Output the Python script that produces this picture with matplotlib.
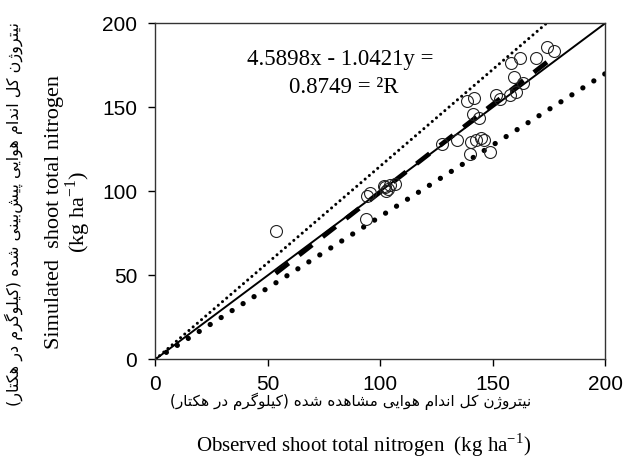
import numpy as np
import matplotlib
matplotlib.use("Agg")
import matplotlib.pyplot as plt

# ---------------- data ----------------
observed = [53.5, 94.2, 95.4, 93.9, 102.1, 102.8, 104.3, 106.5, 101.5, 103.5,
            127.3, 134.0, 138.4, 141.8, 141.3, 144.0, 139.9, 140.2, 142.8, 145.0,
            146.0, 148.8, 151.7, 153.5, 158.1, 159.4, 157.6, 160.3, 163.6, 162.4,
            169.2, 174.2, 177.2]
simulated = [76.5, 97.2, 99.2, 83.3, 102.7, 100.4, 103.7, 104.2, 103.0, 101.5,
             128.2, 130.5, 153.9, 155.4, 146.0, 143.4, 122.2, 129.5, 130.5, 131.5,
             130.5, 123.2, 157.3, 154.7, 176.6, 168.2, 157.3, 159.3, 164.3, 179.5,
             179.5, 186.1, 183.5]
slope, intercept = 1.0421, -4.5898
r2 = 0.8749
upper_factor, lower_factor = 1.15, 0.85
ticks = [0, 50, 100, 150, 200]

x_label_en = "Observed shoot total nitrogen  (kg ha$^{\\mathregular{-1}}$)"
y_label_en = "Simulated  shoot total nitrogen\n(kg ha$^{\\mathregular{-1}}$)"
x_label_fa = "نیتروژن کل اندام هوایی مشاهده شده (کیلوگرم در هکتار)"
y_label_fa = "نیتروژن کل اندام هوایی پیش\u200cبینی شده (کیلوگرم در هکتار)"

# ------------- simple Persian shaping (visual order) -------------
FORMS = {
    'ا': ('\uFE8D', '\uFE8E', None, None),
    'ب': ('\uFE8F', '\uFE90', '\uFE91', '\uFE92'),
    'پ': ('\uFB56', '\uFB57', '\uFB58', '\uFB59'),
    'ت': ('\uFE95', '\uFE96', '\uFE97', '\uFE98'),
    'د': ('\uFEA9', '\uFEAA', None, None),
    'ر': ('\uFEAD', '\uFEAE', None, None),
    'ز': ('\uFEAF', '\uFEB0', None, None),
    'ژ': ('\uFB8A', '\uFB8B', None, None),
    'ش': ('\uFEB5', '\uFEB6', '\uFEB7', '\uFEB8'),
    'ک': ('\uFB8E', '\uFB8F', '\uFB90', '\uFB91'),
    'گ': ('\uFB92', '\uFB93', '\uFB94', '\uFB95'),
    'ل': ('\uFEDD', '\uFEDE', '\uFEDF', '\uFEE0'),
    'م': ('\uFEE1', '\uFEE2', '\uFEE3', '\uFEE4'),
    'ن': ('\uFEE5', '\uFEE6', '\uFEE7', '\uFEE8'),
    'ه': ('\uFEE9', '\uFEEA', '\uFEEB', '\uFEEC'),
    'و': ('\uFEED', '\uFEEE', None, None),
    'ی': ('\uFBFC', '\uFBFD', '\uFBFE', '\uFBFF'),
}


def shape_fa(text):
    text = text.replace('\u064A', '\u06CC').replace('\u0643', '\u06A9')
    chars = list(text)
    out = []
    for i, c in enumerate(chars):
        if c not in FORMS:
            if c != '\u200c':
                out.append(c)
            continue
        prev = chars[i - 1] if i > 0 else None
        nxt = chars[i + 1] if i + 1 < len(chars) else None
        jp = prev in FORMS and FORMS[prev][2] is not None
        jn = FORMS[c][2] is not None and nxt in FORMS
        iso, fin, ini, med = FORMS[c]
        if jp and jn:
            out.append(med)
        elif jp:
            out.append(fin)
        elif jn:
            out.append(ini)
        else:
            out.append(iso)
    vis = ''.join(out)[::-1]
    return vis.translate(str.maketrans('()', ')('))


# ---------------- figure ----------------
fig = plt.figure(figsize=(6.24, 4.59), dpi=100)
ax = fig.add_axes([0.249, 0.2172, 0.7206, 0.7318])

xx = np.array([0, 200])
ax.plot(xx, xx, color='black', lw=1.4, zorder=2)
ax.plot(xx, upper_factor * xx, color='black', lw=2.2,
        linestyle=(0, (0.01, 1.8)), dash_capstyle='round', zorder=2)
ax.plot(xx, lower_factor * xx, color='black', lw=3.8,
        linestyle=(0, (0.01, 2.45)), dash_capstyle='round', zorder=2)
xr = np.array([min(observed), max(observed)])
ax.plot(xr, slope * xr + intercept, color='black', lw=3.4,
        linestyle=(0, (3.5, 2.8)), zorder=3)
ax.plot(observed, simulated, linestyle='none', marker='o', markersize=8.6,
        markerfacecolor='none', markeredgecolor='#222222',
        markeredgewidth=0.8, zorder=4)

ax.set_xlim(0, 200)
ax.set_ylim(0, 200)
ax.set_xticks(ticks)
ax.set_yticks(ticks)
ax.tick_params(direction='out', length=5, width=1, labelsize=15,
               colors='black')
ax.tick_params(axis='y', pad=8)
ax.tick_params(axis='x', pad=6)
for lab in ax.get_xticklabels() + ax.get_yticklabels():
    lab.set_fontfamily('Liberation Sans')
for s in ax.spines.values():
    s.set_linewidth(1.0)
    s.set_color('#333333')

serif = 'Liberation Serif'
ax.text(0.412, 0.894, f"{abs(intercept):.4f}x - {slope:.4f}y =",
        transform=ax.transAxes, ha='center', va='center',
        fontsize=16.5, family=serif)
ax.text(0.42, 0.808, f"{r2:.4f} = \u00b2R", transform=ax.transAxes,
        ha='center', va='center', fontsize=16.5, family=serif)

# axis labels
fig.text(364 / 624, 1 - 445 / 459, x_label_en, ha='center', va='center',
         fontsize=15, family=serif)
fig.text(351 / 624, 1 - 401 / 459, shape_fa(x_label_fa), ha='center',
         va='center', fontsize=11, family=['DejaVu Sans'])
fig.text(69 / 624, 1 - 212 / 459, y_label_en, ha='center', va='center',
         rotation=90, fontsize=16, family=serif, linespacing=1.0,
         multialignment='center')
fig.text(14 / 624, 1 - 214 / 459, shape_fa(y_label_fa), ha='center',
         va='center', rotation=90, fontsize=11.5, family=['DejaVu Sans'])

fig.savefig('out.png', dpi=100)
